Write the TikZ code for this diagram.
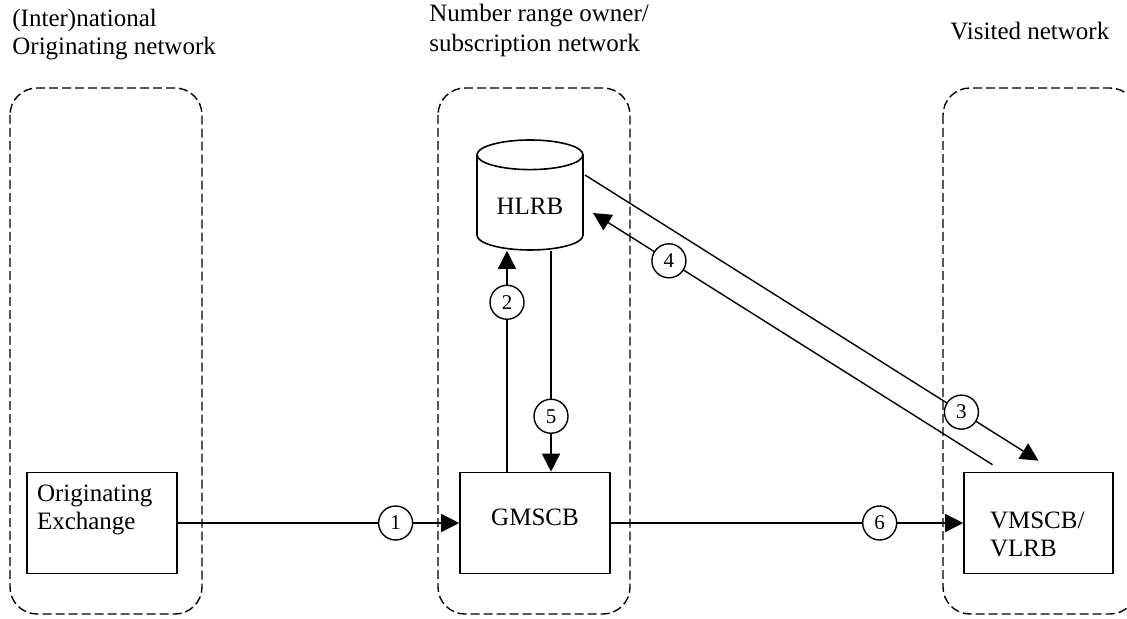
\documentclass[tikz,border=0pt]{standalone}
\usepackage{fontspec}
\setmainfont{Liberation Serif}
\usetikzlibrary{positioning,shapes.geometric,arrows.meta}
\tikzstyle{unit} = [draw, rectangle, line width=0.8pt, inner xsep=5pt, inner ysep=0pt, minimum height=50.5pt, font=\fontsize{12.5pt}{14pt}\selectfont]
\tikzstyle{database} = [draw, cylinder, shape border rotate=90, aspect=0.37, line width=0.8pt, minimum width=53pt, minimum height=55pt, font=\fontsize{12.5pt}{14pt}\selectfont]
\tikzstyle{num} = [draw, circle, fill=white, line width=0.7pt, minimum size=17pt, inner sep=0pt, font=\fontsize{10.5pt}{12pt}\selectfont]
\tikzstyle{line} = [draw, line width=0.7pt, -{Triangle[length=9pt,width=9pt]}]
\tikzstyle{network} = [draw, dash pattern=on 4.5pt off 2pt, rounded corners=13.5pt, line width=0.7pt]
\tikzstyle{title} = [align=left, inner sep=0pt, anchor=west, font=\fontsize{12.5pt}{14pt}\selectfont]
\newcommand{\boxtext}[2]{\raisebox{#1}[\height][\depth]{#2}}

\begin{document}
\begin{tikzpicture}[x=0.5pt, y=-0.5pt]
    \useasboundingbox (0,0) rectangle (1127,619);
    \clip (0,0) rectangle (1127,619);
    % Network areas
    \path [network] (10,88) rectangle (202,614);
    \path [network] (438,88) rectangle (630,614);
    \path [network] (943,88) rectangle (1137,614);
    % Titles
    \node [title] (orig-title) at (12,35) {(Inter)national\\Originating network};
    \node [title, font=\fontsize{12.5pt}{15pt}\selectfont] (owner-title) at (429,30) {Number range owner/\\subscription network};
    \node [title] (visited-title) at (950,31) {Visited network};
    % Place nodes
    \node [unit, minimum width=75pt] (orig) at (102,523) {\boxtext{6.5pt}{\parbox{65pt}{Originating\\Exchange}}};
    \node [unit, minimum width=75pt] (gmscb) at (535,523) {\boxtext{3pt}{GMSCB}};
    \node [unit, minimum width=74.5pt, inner xsep=13pt] (vmscb) at (1038.5,523) {\boxtext{-5.5pt}{\parbox{48.5pt}{VMSCB/\\VLRB}}};
    \node [database, anchor=shape center] (hlrb) at (530,195) {HLRB};
    % Draw edges
    \path [line] (orig) -- node [num, pos=0.774] (n1) {1} (gmscb);
    \path [line] ([shift={(-28,0)}]gmscb.north) -- node [num, pos=0.767] (n2) {2} ([shift={(-23,0)}]hlrb.bottom);
    \path [line] ([shift={(55,-20)}]hlrb.shape center) -- node [num, pos=0.83] (n3) {3} ([shift={(0,-11)}]vmscb.north);
    \path [line] ([shift={(-46,-7)}]vmscb.north) -- node [num, pos=0.81] (n4) {4} ([shift={(63,18)}]hlrb.shape center);
    \path [line] ([shift={(21,0)}]hlrb.bottom) -- node [num, pos=0.749] (n5) {5} ([shift={(16,0)}]gmscb.north);
    \path [line] (gmscb) -- node [num, pos=0.763] (n6) {6} (vmscb);
\end{tikzpicture}
\end{document}
